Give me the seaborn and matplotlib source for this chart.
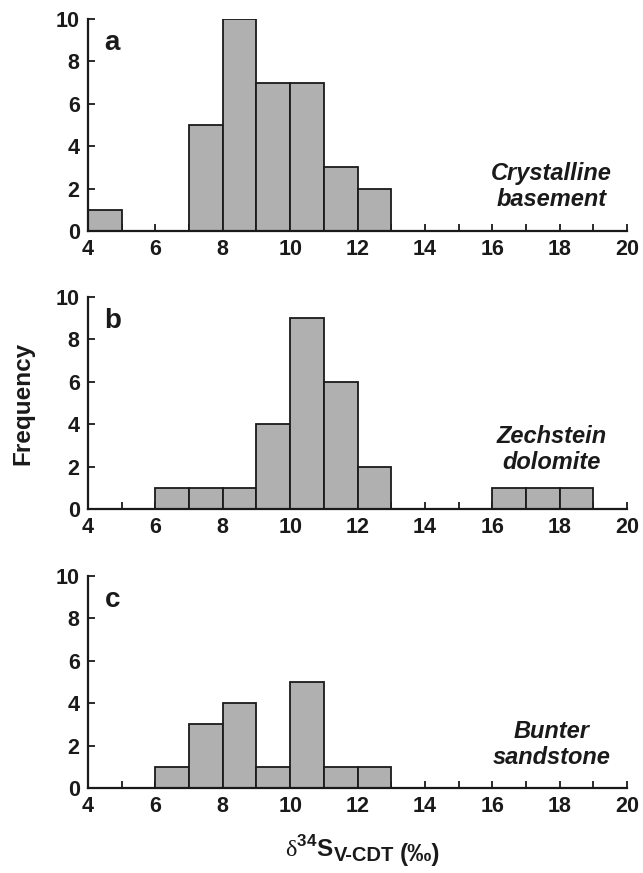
import numpy as np
import pandas as pd
import seaborn as sns
import matplotlib.pyplot as plt
from matplotlib.ticker import MultipleLocator

sns.set_style("ticks")
plt.rcParams['font.family'] = ['Liberation Sans', 'DejaVu Sans']
plt.rcParams['mathtext.fontset'] = 'custom'
plt.rcParams['mathtext.rm'] = 'Liberation Serif'
plt.rcParams['mathtext.bf'] = 'Liberation Sans:bold'
plt.rcParams['mathtext.sf'] = 'Liberation Sans:bold'

# Bin left edges (width 1 per-mil) and frequencies for each panel
bin_edges = list(range(4, 21))
bins_a = [4, 7, 8, 9, 10, 11, 12]
freq_a = [1, 5, 10, 7, 7, 3, 2]
bins_b = [6, 7, 8, 9, 10, 11, 12, 16, 17, 18]
freq_b = [1, 1, 1, 4, 9, 6, 2, 1, 1, 1]
bins_c = [6, 7, 8, 9, 10, 11, 12]
freq_c = [1, 3, 4, 1, 5, 1, 1]

panel_letters = ['a', 'b', 'c']
panel_labels = ['Crystalline\nbasement', 'Zechstein\ndolomite', 'Bunter\nsandstone']
label_y = [2.1, 2.8, 2.05]
xticks = [4, 6, 8, 10, 12, 14, 16, 18, 20]
yticks = [0, 2, 4, 6, 8, 10]

fig = plt.figure(figsize=(6.43, 8.73), dpi=100)
left, width, height = 88 / 643, 539 / 643, 212 / 873
bottoms = [1 - 231 / 873, 1 - 509 / 873, 1 - 788 / 873]

datasets = [(bins_a, freq_a), (bins_b, freq_b), (bins_c, freq_c)]
axes = []
for i, ((b, f), bot) in enumerate(zip(datasets, bottoms)):
    ax = fig.add_axes([left, bot, width, height])
    axes.append(ax)
    df = pd.DataFrame({'x': np.array(b) + 0.5, 'w': f})
    sns.histplot(data=df, x='x', weights='w', bins=bin_edges, ax=ax,
                 color='#b0b0b0', alpha=1.0, edgecolor='#1a1a1a', linewidth=1.3)
    ax.set_xlim(4, 20)
    ax.set_ylim(0, 10)
    ax.set_xticks(xticks)
    ax.set_yticks(yticks)
    ax.xaxis.set_minor_locator(MultipleLocator(1))
    ax.tick_params(axis='both', which='both', direction='in', length=5, width=1.3,
                   color='#1a1a1a', labelsize=15.5, pad=6)
    ax.tick_params(axis='x', which='minor', length=5)
    for lab in ax.get_xticklabels() + ax.get_yticklabels():
        lab.set_fontweight('bold')
        lab.set_color('#1a1a1a')
    sns.despine(ax=ax)
    for s in ['left', 'bottom']:
        ax.spines[s].set_linewidth(1.6)
        ax.spines[s].set_color('#1a1a1a')
    ax.set_xlabel('')
    ax.set_ylabel('')
    ax.text(4.72, 8.85, panel_letters[i], fontsize=20, fontweight='bold',
            ha='center', va='center', color='#1a1a1a')
    ax.text(17.75, label_y[i], panel_labels[i], fontsize=17, fontweight='bold',
            fontstyle='italic', ha='center', va='center', color='#1a1a1a',
            linespacing=1.2)

axes[1].set_ylabel('Frequency', fontsize=17.5, fontweight='bold', color='#1a1a1a',
                   labelpad=15)

# x-axis title: delta-34 S (main), V-CDT subscript, (per mil)
axc = axes[2]
yb = -69 / 212
t_main = axc.text(0.3655, yb, r'$\mathrm{\delta}^{\mathbf{34}}\mathbf{S}$',
                  transform=axc.transAxes, fontsize=17.5, ha='left', va='baseline',
                  color='#1a1a1a')
t_sub = axc.annotate('V-CDT', xy=(1, yb), xycoords=(t_main, axc.transAxes),
                     xytext=(0.5, -3), textcoords='offset points', fontsize=14.5,
                     fontweight='bold', ha='left', va='baseline', color='#1a1a1a')
t_pm = axc.annotate('(‰)', xy=(1, yb), xycoords=(t_sub, axc.transAxes),
                    xytext=(4, -3), textcoords='offset points', fontsize=17.5,
                    fontweight='bold', ha='left', va='baseline', color='#1a1a1a')

fig.savefig('out.png', dpi=100)
